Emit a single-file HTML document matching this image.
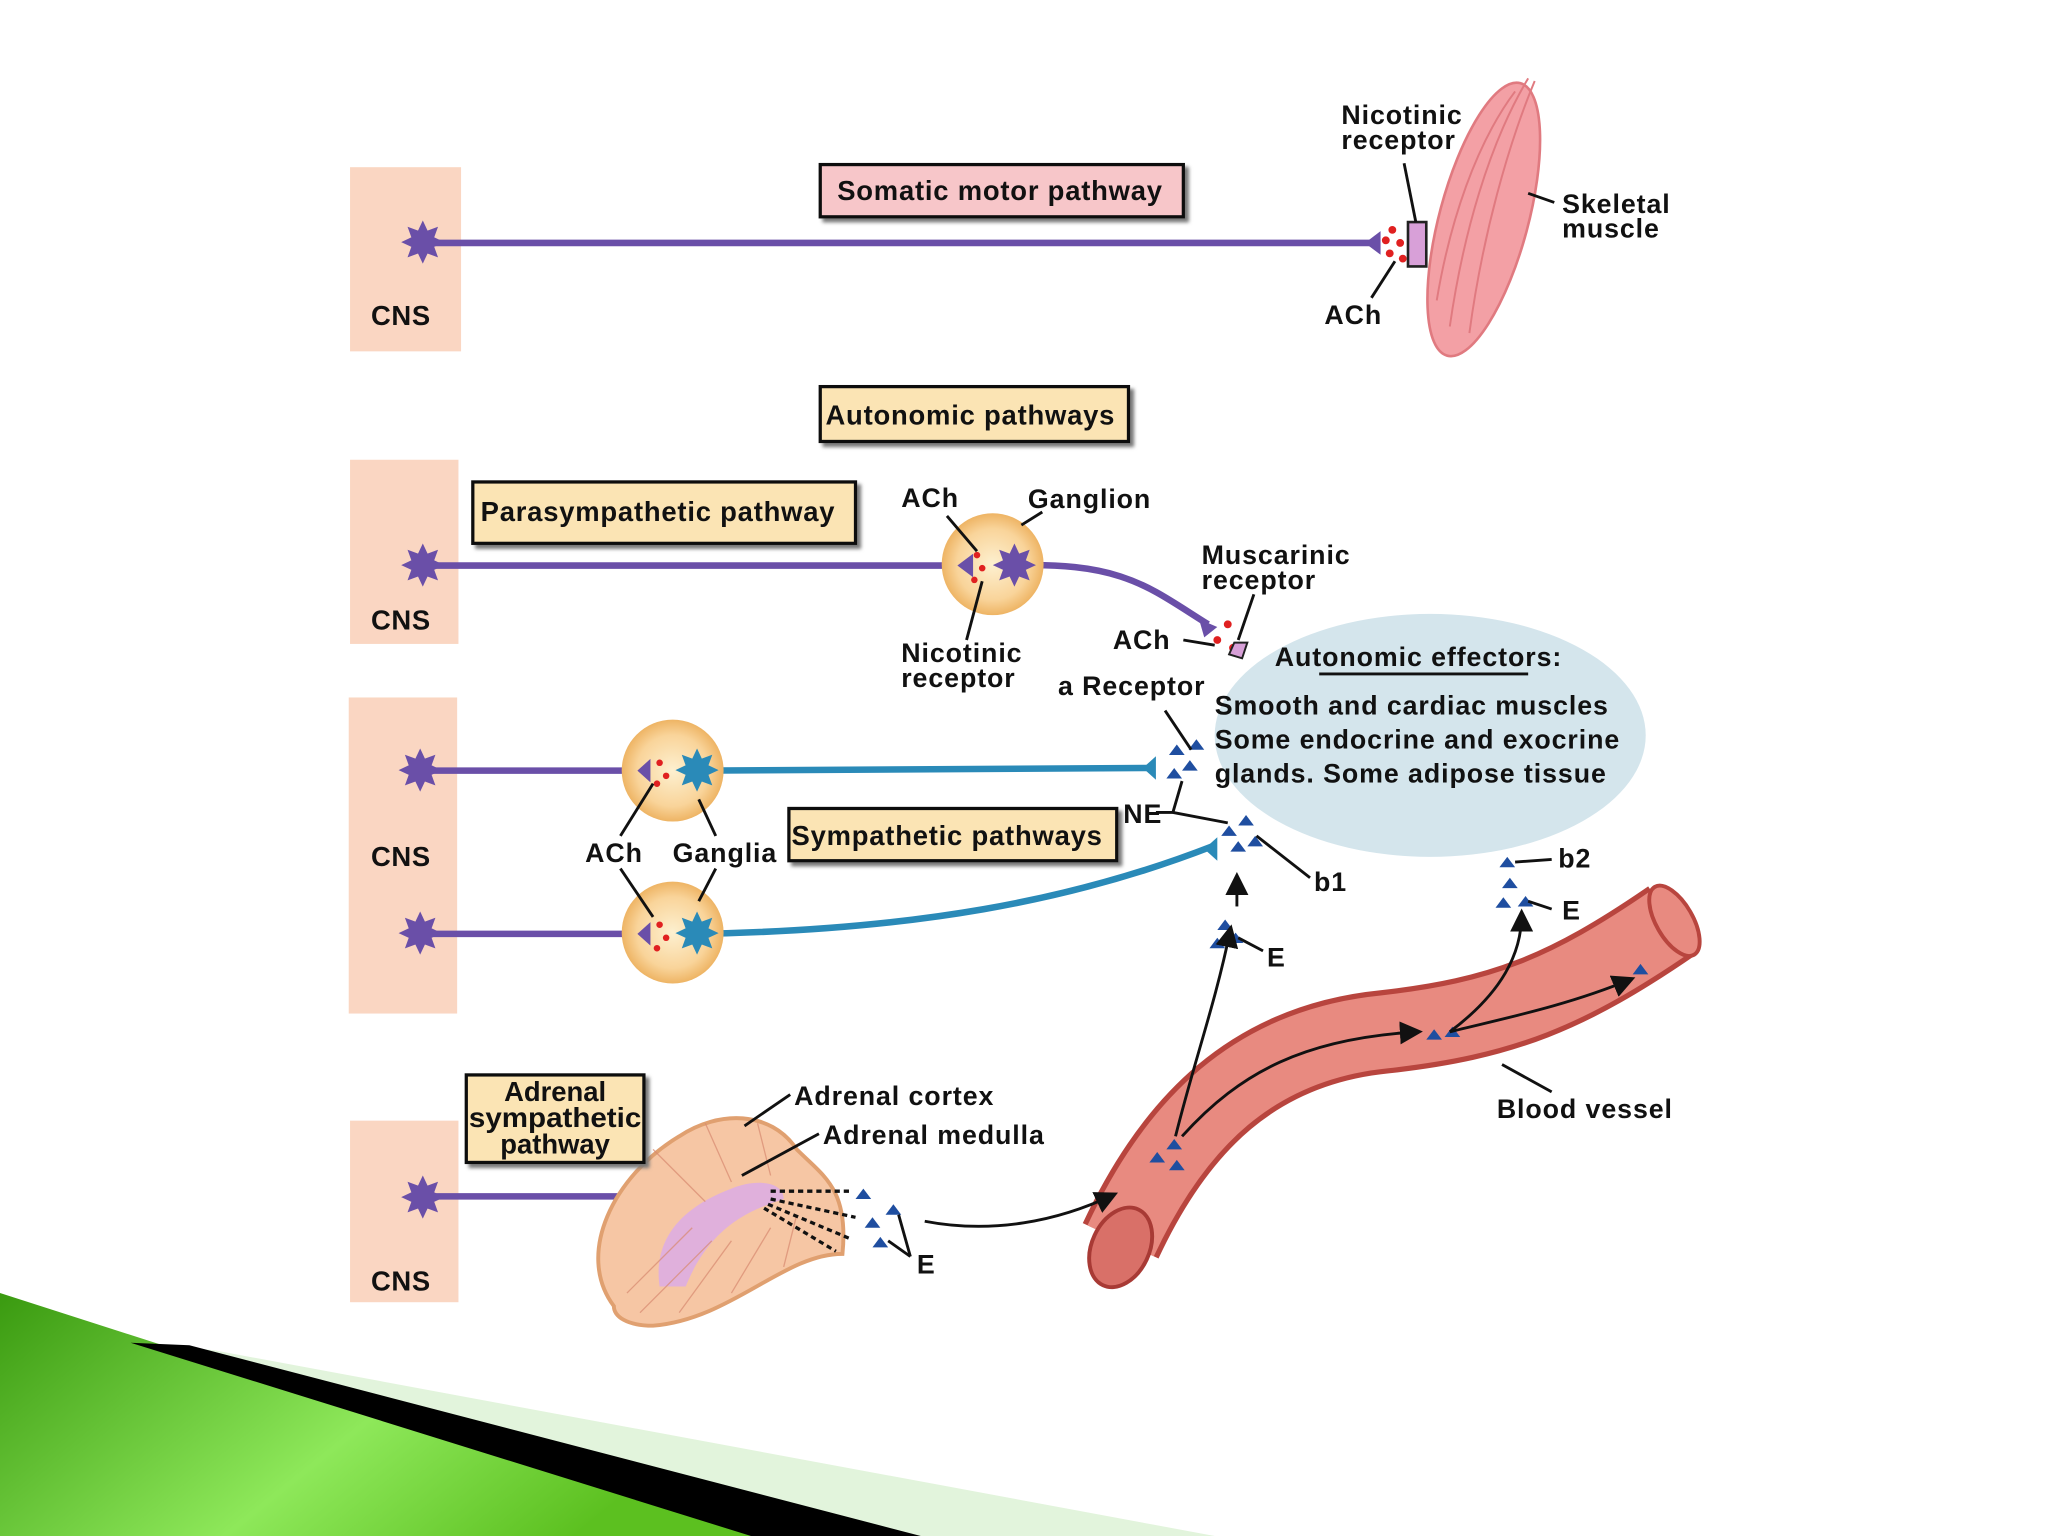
<!DOCTYPE html>
<html><head><meta charset="utf-8"><style>
html,body{margin:0;padding:0;background:#fff;}
svg{display:block;}
text{font-family:"Liberation Sans",Arial,sans-serif;font-weight:bold;fill:#111;}
</style></head><body>
<svg width="2048" height="1536" viewBox="0 0 1568 1176" xmlns="http://www.w3.org/2000/svg">
<defs>
<radialGradient id="gang" cx="50%" cy="50%" r="50%">
<stop offset="0" stop-color="#fdf0d0"/><stop offset="0.7" stop-color="#f9d49a"/><stop offset="1" stop-color="#eeb464"/></radialGradient>
<linearGradient id="grn" x1="0" y1="0" x2="1" y2="0.4"><stop offset="0" stop-color="#3a9a10"/><stop offset="0.6" stop-color="#8ee85a"/><stop offset="1" stop-color="#5cc020"/></linearGradient>
<marker id="ar" markerWidth="8" markerHeight="8" refX="6" refY="4" orient="auto"><path d="M0,0 L8,4 L0,8z" fill="#111"/></marker>
<filter id="sh"><feDropShadow dx="3" dy="3" stdDeviation="1.5" flood-color="#777"/></filter>
</defs>
<rect width="1568" height="1176" fill="#fff"/>

<g fill="#fad6c2">
<rect x="268" y="128" width="85" height="141"/>
<rect x="268" y="352" width="83" height="141"/>
<rect x="267" y="534" width="83" height="242"/>
<rect x="268" y="858" width="83" height="139"/>
</g>
<g font-size="21" letter-spacing="0.5">
<text x="284" y="249">CNS</text><text x="284" y="482">CNS</text>
<text x="284" y="663">CNS</text><text x="284" y="988">CNS</text>
</g>

<ellipse cx="1095" cy="563" rx="165" ry="93" fill="#d4e5ec"/>

<path d="M858,950 C900,860 960,800 1060,790 C1150,780 1200,760 1280,705" fill="none" stroke="#b8453e" stroke-width="64"/>
<path d="M858,950 C900,860 960,800 1060,790 C1150,780 1200,760 1280,705" fill="none" stroke="#e88a80" stroke-width="56"/>
<ellipse cx="858" cy="955" rx="22" ry="32" fill="#d97068" stroke="#a83a35" stroke-width="3" transform="rotate(25 858 955)"/>
<ellipse cx="1282" cy="705" rx="14" ry="30" fill="#e88a80" stroke="#b8453e" stroke-width="3" transform="rotate(-30 1282 705)"/>

<ellipse cx="1136" cy="168" rx="34" ry="108" fill="#f3a0a5" stroke="#e07a80" stroke-width="2" transform="rotate(15 1136 168)"/>
<g stroke="#e07a80" stroke-width="1.5" fill="none">
<path d="M1110,250 C1120,180 1140,110 1170,60"/><path d="M1125,255 C1135,180 1155,110 1175,62"/><path d="M1100,230 C1110,170 1130,110 1160,70"/>
</g>
<path d="M1078,170 h14 v34 h-14 z" fill="#d8a0d8" stroke="#222" stroke-width="2"/>

<g stroke="#6a4fa8" stroke-width="5" fill="none">
<line x1="325" y1="186" x2="1055" y2="186"/>
<line x1="325" y1="433" x2="745" y2="433"/>
<path d="M775,433 C860,430 880,450 925,478"/>
<line x1="325" y1="590" x2="495" y2="590"/>
<line x1="325" y1="715" x2="495" y2="715"/>
<line x1="325" y1="916" x2="555" y2="916"/>
</g>
<g stroke="#2a8ab8" stroke-width="5" fill="none">
<line x1="535" y1="590" x2="880" y2="588"/>
<path d="M535,715 C700,712 820,690 928,648"/>
</g>

<circle cx="760" cy="432" r="39" fill="url(#gang)"/>
<circle cx="515" cy="590" r="39" fill="url(#gang)"/>
<circle cx="515" cy="714" r="39" fill="url(#gang)"/>

<g font-size="40">
<text x="307" y="200" style="fill:#6a4fa8">✸</text>
<text x="307" y="447" style="fill:#6a4fa8">✸</text>
<text x="305" y="604" style="fill:#6a4fa8">✸</text>
<text x="305" y="729" style="fill:#6a4fa8">✸</text>
<text x="307" y="931" style="fill:#6a4fa8">✸</text>
<text x="760" y="447" style="fill:#6a4fa8">✸</text>
<text x="517" y="604" style="fill:#2a8ab8">✸</text>
<text x="517" y="729" style="fill:#2a8ab8">✸</text>
</g>
<g fill="#6a4fa8">
<path d="M1045,186 l12,-9 v18z"/><path d="M733,433 l12,-9 v18z"/><path d="M488,590 l10,-9 v18z"/><path d="M488,715 l10,-9 v18z"/><path d="M545,916 l10,-9 v18z"/>
<path d="M918,474 l14,6 l-10,8z"/>
</g>
<g fill="#2a8ab8"><path d="M875,588 l10,-9 v18z"/><path d="M922,650 l10,-9 v18z"/></g>
<g fill="#e02020">
<circle cx="1066" cy="176" r="3"/><circle cx="1072" cy="186" r="3"/><circle cx="1064" cy="194" r="3"/><circle cx="1074" cy="198" r="3"/><circle cx="1061" cy="184" r="3"/>
<circle cx="748" cy="425" r="2.5"/><circle cx="752" cy="435" r="2.5"/><circle cx="746" cy="444" r="2.5"/>
<circle cx="505" cy="584" r="2.5"/><circle cx="510" cy="594" r="2.5"/><circle cx="503" cy="600" r="2.5"/>
<circle cx="505" cy="708" r="2.5"/><circle cx="510" cy="718" r="2.5"/><circle cx="503" cy="726" r="2.5"/>
<circle cx="940" cy="478" r="3"/><circle cx="932" cy="490" r="3"/><circle cx="944" cy="496" r="3"/>
<circle cx="565" cy="910" r="2.5"/><circle cx="570" cy="918" r="2.5"/><circle cx="562" cy="922" r="2.5"/>
</g>
<path d="M945,492 l10,0 l-4,12 l-10,-3z" fill="#d8a0d8" stroke="#222" stroke-width="1.5"/>

<g fill="#1f4ea0">
<path d="M895,578 l6,-8 l6,8z"/><path d="M905,590 l6,-8 l6,8z"/><path d="M893,596 l6,-8 l6,8z"/><path d="M910,574 l6,-8 l6,8z"/>
<path d="M935,640 l6,-8 l6,8z"/><path d="M948,632 l6,-8 l6,8z"/><path d="M955,648 l6,-8 l6,8z"/><path d="M942,652 l6,-8 l6,8z"/>
<path d="M932,712 l6,-8 l6,8z"/><path d="M926,726 l6,-8 l6,8z"/><path d="M940,722 l6,-8 l6,8z"/>
<path d="M1148,664 l6,-8 l6,8z"/><path d="M1150,680 l6,-8 l6,8z"/><path d="M1145,695 l6,-8 l6,8z"/><path d="M1162,694 l6,-8 l6,8z"/>
<path d="M655,918 l6,-8 l6,8z"/><path d="M678,930 l6,-8 l6,8z"/><path d="M662,940 l6,-8 l6,8z"/><path d="M668,955 l6,-8 l6,8z"/>
<path d="M880,890 l6,-8 l6,8z"/><path d="M893,880 l6,-8 l6,8z"/><path d="M895,896 l6,-8 l6,8z"/>
<path d="M1092,796 l6,-8 l6,8z"/><path d="M1106,794 l6,-8 l6,8z"/><path d="M1250,746 l6,-8 l6,8z"/>
</g>

<path d="M470,1000 C440,960 470,900 520,870 C550,850 590,850 610,880 C630,900 650,910 645,960 C600,960 560,1010 500,1015 C480,1015 470,1008 470,1000z" fill="#f6c6a4" stroke="#e0a070" stroke-width="3"/>
<path d="M505,985 C500,950 520,925 560,910 C580,902 600,905 600,918 C580,925 545,935 525,985z" fill="#e0b0dc"/>
<g stroke="#d88a70" stroke-width="1" opacity="0.7">
<line x1="480" y1="990" x2="530" y2="940"/><line x1="490" y1="1005" x2="545" y2="950"/><line x1="520" y1="1005" x2="560" y2="950"/><line x1="560" y1="990" x2="590" y2="940"/><line x1="600" y1="970" x2="610" y2="930"/><line x1="500" y1="880" x2="540" y2="920"/><line x1="540" y1="860" x2="560" y2="905"/><line x1="580" y1="860" x2="590" y2="900"/>
</g>
<g stroke="#111" stroke-width="2.5" stroke-dasharray="4,3" fill="none">
<path d="M590,912 L650,912"/><path d="M590,918 L655,932"/><path d="M588,922 L650,948"/><path d="M585,925 L640,958"/>
</g>

<g stroke="#111" stroke-width="2.2" fill="none">
<line x1="1075" y1="125" x2="1084" y2="170"/><line x1="1050" y1="228" x2="1068" y2="200"/><line x1="1170" y1="148" x2="1190" y2="155"/>
<line x1="725" y1="395" x2="748" y2="422"/><line x1="798" y1="392" x2="782" y2="402"/><line x1="740" y1="490" x2="752" y2="445"/>
<line x1="960" y1="455" x2="948" y2="490"/><line x1="906" y1="490" x2="930" y2="494"/><line x1="892" y1="544" x2="912" y2="574"/>
<path d="M885,622 L898,622 L905,598"/><path d="M898,622 L940,630"/><line x1="1003" y1="672" x2="962" y2="640"/>
<line x1="475" y1="640" x2="500" y2="600"/><line x1="548" y1="640" x2="535" y2="612"/>
<line x1="475" y1="665" x2="500" y2="702"/><line x1="548" y1="665" x2="535" y2="690"/>
<line x1="1188" y1="658" x2="1160" y2="660"/><line x1="1188" y1="696" x2="1170" y2="690"/><line x1="967" y1="728" x2="948" y2="718"/>
<line x1="605" y1="838" x2="570" y2="862"/><line x1="627" y1="868" x2="568" y2="900"/>
<path d="M697,962 L680,950 M697,962 L688,930"/>
<line x1="1188" y1="836" x2="1150" y2="815"/>
<line x1="1010" y1="516" x2="1170" y2="516"/>
</g>
<g stroke="#111" stroke-width="2.2" fill="none" marker-end="url(#ar)">
<path d="M708,935 C760,945 810,935 852,915"/>
<path d="M900,870 C915,810 930,770 942,712"/>
<line x1="947" y1="694" x2="947" y2="672"/>
<path d="M905,870 C950,820 1000,795 1085,790"/>
<path d="M1110,790 C1150,780 1200,770 1248,750"/>
<path d="M1110,790 C1150,760 1165,730 1165,700"/>
</g>

<g stroke="#111" stroke-width="2.5" filter="url(#sh)">
<rect x="628" y="126" width="278" height="40" fill="#f7c6c9"/>
<rect x="628" y="296" width="236" height="42" fill="#fbe4b4"/>
<rect x="362" y="369" width="293" height="47" fill="#fbe4b4"/>
<rect x="604" y="619" width="251" height="40" fill="#fbe4b4"/>
<rect x="357" y="823" width="136" height="67" fill="#fbe4b4"/>
</g>
<g font-size="21" letter-spacing="0.6">
<text x="641" y="153">Somatic motor pathway</text>
<text x="632" y="325">Autonomic pathways</text>
<text x="368" y="399">Parasympathetic pathway</text>
<text x="606" y="647">Sympathetic pathways</text>
</g>
<g font-size="21">
<text x="425" y="843" text-anchor="middle">Adrenal</text>
<text x="425" y="863" text-anchor="middle" textLength="132" lengthAdjust="spacingAndGlyphs">sympathetic</text>
<text x="425" y="883" text-anchor="middle">pathway</text>
</g>
<g font-size="20.5" letter-spacing="0.7">
<text x="1027" y="95">Nicotinic</text><text x="1027" y="114">receptor</text>
<text x="1196" y="163">Skeletal</text><text x="1196" y="182">muscle</text>
<text x="1014" y="248">ACh</text>
<text x="690" y="388">ACh</text><text x="787" y="389">Ganglion</text>
<text x="690" y="507">Nicotinic</text><text x="690" y="526">receptor</text>
<text x="920" y="432">Muscarinic</text><text x="920" y="451">receptor</text>
<text x="852" y="497">ACh</text>
<text x="810" y="532">a Receptor</text>
<text x="976" y="510">Autonomic effectors:</text>
<text x="930" y="547">Smooth and cardiac muscles</text>
<text x="930" y="573">Some endocrine and exocrine</text>
<text x="930" y="599">glands. Some adipose tissue</text>
<text x="860" y="630">NE</text>
<text x="1006" y="682">b1</text><text x="1193" y="664">b2</text>
<text x="1196" y="704">E</text><text x="970" y="740">E</text>
<text x="448" y="660">ACh</text><text x="515" y="660">Ganglia</text>
<text x="608" y="846">Adrenal cortex</text>
<text x="630" y="876">Adrenal medulla</text>
<text x="702" y="975">E</text>
<text x="1146" y="856">Blood vessel</text>
</g>

<polygon points="0,990 580,1176 0,1176" fill="url(#grn)"/>
<polygon points="130,1030 165,1034 930,1176 700,1176" fill="#e2f4dc"/>
<polygon points="100,1028 145,1030 705,1176 575,1176" fill="#000"/>
</svg>
</body></html>
